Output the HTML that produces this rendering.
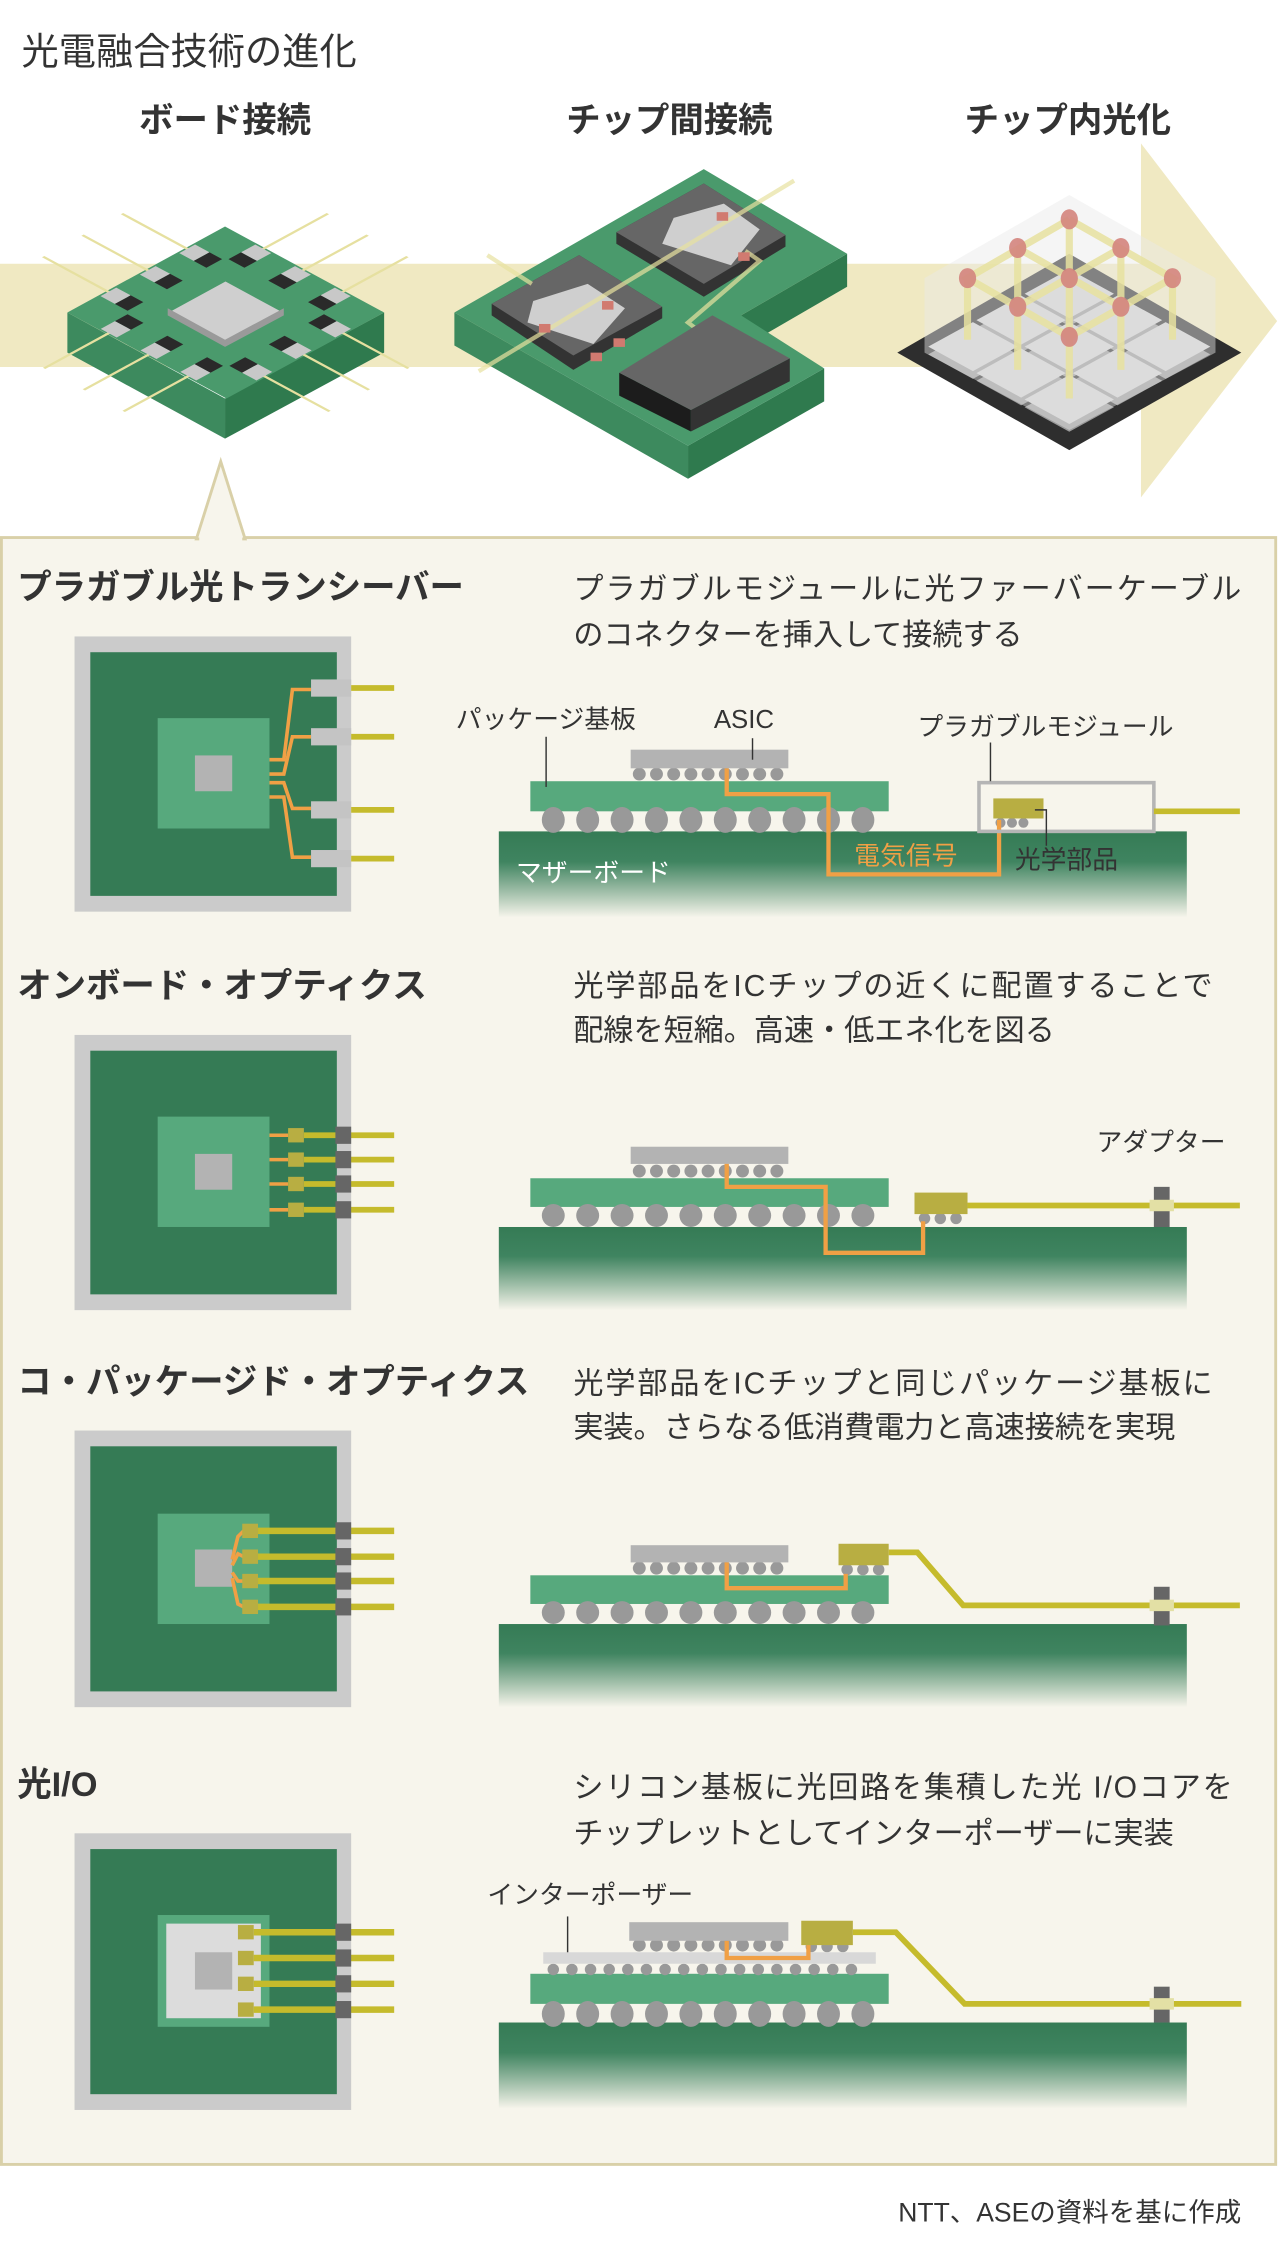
<!DOCTYPE html>
<html><head><meta charset="utf-8"><style>
html,body{margin:0;padding:0;background:#fff;}
svg{display:block;}
text{font-family:"Liberation Sans","Noto Sans CJK JP",sans-serif;fill:#333;}
.h{font-weight:bold;font-size:24px;}
.d{font-size:21px;}
.l{font-size:18px;}
</style></head><body>
<svg width="1280" height="2244" viewBox="0 0 893 1565.5" xmlns="http://www.w3.org/2000/svg">
<defs>
<linearGradient id="mb" x1="0" y1="0" x2="0" y2="1">
<stop offset="0" stop-color="#357b55"/><stop offset="0.35" stop-color="#3f8460"/><stop offset="1" stop-color="#357b55" stop-opacity="0"/>
</linearGradient>
</defs>
<rect width="893" height="1565.5" fill="#fff"/>
<text x="15" y="45" font-size="26">光電融合技術の進化</text>
<text class="h" x="157" y="92" text-anchor="middle">ボード接続</text>
<text class="h" x="467" y="92" text-anchor="middle">チップ間接続</text>
<text class="h" x="745" y="92" text-anchor="middle">チップ内光化</text>
<polygon points="0,184 796,184 796,100 891,224 796,347 796,256 0,256" fill="#f0e9c2"/>

<!-- board 1 -->
<polygon points="47,218 157,278 157,306 47,246" fill="#3d8a5e"/>
<polygon points="157,278 268,218 268,246 157,306" fill="#2f7a4e"/>
<g transform="matrix(1.11,0.6,-1.10,0.6,157,158)">
 <rect x="0" y="0" width="100" height="100" fill="#4a9a6c"/>
 <g stroke="#e6e0a0" stroke-width="1.5">
  <line x1="25" y1="4" x2="25" y2="-40"/><line x1="50" y1="4" x2="50" y2="-40"/><line x1="75" y1="4" x2="75" y2="-40"/>
  <line x1="25" y1="96" x2="25" y2="140"/><line x1="50" y1="96" x2="50" y2="140"/><line x1="75" y1="96" x2="75" y2="140"/>
  <line x1="4" y1="25" x2="-40" y2="25"/><line x1="4" y1="50" x2="-40" y2="50"/><line x1="4" y1="75" x2="-40" y2="75"/>
  <line x1="96" y1="25" x2="140" y2="25"/><line x1="96" y1="50" x2="140" y2="50"/><line x1="96" y1="75" x2="140" y2="75"/>
 </g>
 <g fill="#2a2a2a">
  <rect x="20" y="10" width="10" height="8"/><rect x="45" y="10" width="10" height="8"/><rect x="70" y="10" width="10" height="8"/>
  <rect x="20" y="82" width="10" height="8"/><rect x="45" y="82" width="10" height="8"/><rect x="70" y="82" width="10" height="8"/>
  <rect x="10" y="20" width="8" height="10"/><rect x="10" y="45" width="8" height="10"/><rect x="10" y="70" width="8" height="10"/>
  <rect x="82" y="20" width="8" height="10"/><rect x="82" y="45" width="8" height="10"/><rect x="82" y="70" width="8" height="10"/>
 </g>
 <g fill="#c8c8c8">
  <rect x="20" y="1" width="10" height="9"/><rect x="45" y="1" width="10" height="9"/><rect x="70" y="1" width="10" height="9"/>
  <rect x="20" y="90" width="10" height="9"/><rect x="45" y="90" width="10" height="9"/><rect x="70" y="90" width="10" height="9"/>
  <rect x="1" y="20" width="9" height="10"/><rect x="1" y="45" width="9" height="10"/><rect x="1" y="70" width="9" height="10"/>
  <rect x="90" y="20" width="9" height="10"/><rect x="90" y="45" width="9" height="10"/><rect x="90" y="70" width="9" height="10"/>
 </g>
 <rect x="32" y="32" width="36" height="36" fill="#cfcfcf"/>
</g>
<polygon points="117,215 157,237 198,215 198,220 157,242 117,220" fill="#9a9a9a"/>

<!-- board 2 -->
<polygon points="317,218 480,311 480,334 317,241" fill="#3d8a5e"/>
<polygon points="480,311 575,257 575,280 480,334" fill="#2f7a4e"/>
<polygon points="591,177 517,220 517,243 591,200" fill="#2f7a4e"/>
<polygon points="491,118 591,177 517,220 575,257 480,311 317,218" fill="#4a9a6c"/>
<polygon points="491,128 548,164 548,172 491,207 430,170 430,162" fill="#333"/>
<polygon points="491,128 548,164 491,198 430,162" fill="#666"/>
<polygon points="470,152 505,142 530,160 510,185 462,170" fill="#cfcfcf"/>
<polygon points="404,178 462,214 462,222 400,258 343,220 343,212" fill="#333"/>
<polygon points="404,178 462,214 400,248 343,212" fill="#666"/>
<polygon points="372,210 410,198 436,215 414,240 368,225" fill="#cfcfcf"/>
<line x1="554" y1="126" x2="334" y2="259" stroke="#e8e2a0" stroke-width="3" opacity="0.7"/>
<line x1="340" y1="178" x2="371" y2="198" stroke="#e8e2a0" stroke-width="3" opacity="0.7"/>
<polyline points="520,175 530,182 480,225 500,240" fill="none" stroke="#e8e2a0" stroke-width="3" opacity="0.7"/>
<g fill="#d17a70">
<rect x="500" y="148" width="8" height="6"/><rect x="515" y="176" width="8" height="6"/>
<rect x="420" y="210" width="8" height="6"/><rect x="376" y="226" width="8" height="6"/><rect x="428" y="236" width="8" height="6"/><rect x="412" y="246" width="8" height="6"/>
</g>
<polygon points="432,260 482,286 482,301 432,276" fill="#1c1c1c"/>
<polygon points="482,286 551,250 551,266 482,301" fill="#333"/>
<polygon points="497,220 551,250 482,286 432,260" fill="#666"/>

<!-- board 3 -->
<polygon points="746,177 866,246 746,314 626,246" fill="#2e2e2e"/>
<g transform="matrix(0.82,0.45,-0.82,0.45,746,186)">
 <g transform="translate(6,6)" fill="#9a9a9a">
  <rect x="2" y="2" width="38" height="38"/><rect x="43" y="2" width="38" height="38"/><rect x="84" y="2" width="38" height="38"/>
  <rect x="2" y="43" width="38" height="38"/><rect x="43" y="43" width="38" height="38"/><rect x="84" y="43" width="38" height="38"/>
  <rect x="2" y="84" width="38" height="38"/><rect x="43" y="84" width="38" height="38"/><rect x="84" y="84" width="38" height="38"/>
 </g>
 <g fill="#d2d2d2">
  <rect x="2" y="2" width="38" height="38"/><rect x="43" y="2" width="38" height="38"/><rect x="84" y="2" width="38" height="38"/>
  <rect x="2" y="43" width="38" height="38"/><rect x="43" y="43" width="38" height="38"/><rect x="84" y="43" width="38" height="38"/>
  <rect x="2" y="84" width="38" height="38"/><rect x="43" y="84" width="38" height="38"/><rect x="84" y="84" width="38" height="38"/>
 </g>
</g>
<polygon points="746,136 848,194 848,246 746,300 645,246 645,194" fill="#e8e8e8" opacity="0.45"/>
<g stroke="#e8e2a0" stroke-width="5" opacity="0.85">
 <line x1="675" y1="194" x2="675" y2="237"/><line x1="710" y1="173" x2="710" y2="258"/><line x1="746" y1="153" x2="746" y2="278"/>
 <line x1="782" y1="173" x2="782" y2="258"/><line x1="818" y1="194" x2="818" y2="237"/>
 <polyline points="746,153 818,194 746,235 675,194 746,153" fill="none"/>
 <line x1="782" y1="173" x2="710" y2="214"/><line x1="710" y1="173" x2="782" y2="214"/>
</g>
<g fill="#d4857e" opacity="0.9">
 <ellipse cx="746" cy="153" rx="6" ry="7"/><ellipse cx="710" cy="173" rx="6" ry="7"/><ellipse cx="782" cy="173" rx="6" ry="7"/>
 <ellipse cx="675" cy="194" rx="6" ry="7"/><ellipse cx="746" cy="194" rx="6" ry="7"/><ellipse cx="818" cy="194" rx="6" ry="7"/>
 <ellipse cx="710" cy="214" rx="6" ry="7"/><ellipse cx="782" cy="214" rx="6" ry="7"/><ellipse cx="746" cy="235" rx="6" ry="7"/>
</g>

<!-- panel -->
<rect x="1" y="375" width="889" height="1135" fill="#f7f5ec" stroke="#d9d0a8" stroke-width="2"/>
<polygon points="137,376 154,322 171,376" fill="#f7f5ec" stroke="#d9d0a8" stroke-width="2"/>
<rect x="139" y="374" width="30" height="4" fill="#f7f5ec"/>

<text class="h" x="12" y="418">プラガブル光トランシーバー</text>
<text class="d" x="400" y="418" textLength="466">プラガブルモジュールに光ファーバーケーブル</text>
<text class="d" x="400" y="450">のコネクターを挿入して接続する</text>
<text class="h" x="12" y="696">オンボード・オプティクス</text>
<text class="d" x="400" y="695" textLength="446">光学部品をICチップの近くに配置することで</text>
<text class="d" x="400" y="726">配線を短縮。高速・低エネ化を図る</text>
<text class="h" x="12" y="972">コ・パッケージド・オプティクス</text>
<text class="d" x="400" y="972" textLength="446">光学部品をICチップと同じパッケージ基板に</text>
<text class="d" x="400" y="1003">実装。さらなる低消費電力と高速接続を実現</text>
<text class="h" x="12" y="1253">光I/O</text>
<text class="d" x="400" y="1254" textLength="460">シリコン基板に光回路を集積した光 I/Oコアを</text>
<text class="d" x="400" y="1286">チップレットとしてインターポーザーに実装</text>
<text x="866" y="1550" font-size="18.5" text-anchor="end">NTT、ASEの資料を基に作成</text>

<!-- Section 1 left -->
<rect x="52" y="444" width="193" height="192" fill="#cbcbcb"/>
<rect x="63" y="455" width="172" height="170" fill="#357b55"/>
<rect x="110" y="501" width="78" height="77" fill="#57a97d"/>
<rect x="136" y="527" width="26" height="25" fill="#b3b3b3"/>
<g fill="none" stroke="#f0a045" stroke-width="2.5">
 <polyline points="188,530 198,530 204,481 217,481"/>
 <polyline points="188,540 198,540 204,514 217,514"/>
 <polyline points="188,546 198,546 204,564 217,564"/>
 <polyline points="188,556 198,556 204,598 217,598"/>
</g>
<g fill="#c4c4c4"><rect x="217" y="474" width="28" height="12"/><rect x="217" y="508" width="28" height="12"/><rect x="217" y="559" width="28" height="12"/><rect x="217" y="593" width="28" height="12"/></g>
<g stroke="#c5bb2c" stroke-width="4"><line x1="245" y1="480" x2="275" y2="480"/><line x1="245" y1="514" x2="275" y2="514"/><line x1="245" y1="565" x2="275" y2="565"/><line x1="245" y1="599" x2="275" y2="599"/></g>

<!-- Section 1 right -->
<rect x="348" y="580" width="480" height="60" fill="url(#mb)"/>
<rect x="370" y="545" width="250" height="21" fill="#57a97d"/>
<g fill="#999"><ellipse cx="386" cy="572" rx="8" ry="9"/><ellipse cx="410" cy="572" rx="8" ry="9"/><ellipse cx="434" cy="572" rx="8" ry="9"/><ellipse cx="458" cy="572" rx="8" ry="9"/><ellipse cx="482" cy="572" rx="8" ry="9"/><ellipse cx="506" cy="572" rx="8" ry="9"/><ellipse cx="530" cy="572" rx="8" ry="9"/><ellipse cx="554" cy="572" rx="8" ry="9"/><ellipse cx="578" cy="572" rx="8" ry="9"/><ellipse cx="602" cy="572" rx="8" ry="9"/>
<circle cx="446" cy="540" r="4.5"/><circle cx="458" cy="540" r="4.5"/><circle cx="470" cy="540" r="4.5"/><circle cx="482" cy="540" r="4.5"/><circle cx="494" cy="540" r="4.5"/><circle cx="506" cy="540" r="4.5"/><circle cx="518" cy="540" r="4.5"/><circle cx="530" cy="540" r="4.5"/><circle cx="542" cy="540" r="4.5"/>
<circle cx="698" cy="574" r="3.5"/><circle cx="706" cy="574" r="3.5"/><circle cx="714" cy="574" r="3.5"/></g>
<rect x="440" y="523" width="110" height="13" fill="#b3b3b3"/>
<polyline points="507,536 507,554 578,554 578,610 697,610 697,572" fill="none" stroke="#f0a045" stroke-width="3"/>
<rect x="683" y="546" width="122" height="34" fill="none" stroke="#b5b5b5" stroke-width="2.5"/>
<rect x="693" y="557" width="35" height="14" fill="#b8ae42"/>
<line x1="805" y1="566" x2="865" y2="566" stroke="#c5bb2c" stroke-width="4"/>
<g stroke="#333" stroke-width="1"><line x1="381" y1="514" x2="381" y2="549"/><line x1="525" y1="515" x2="525" y2="530"/><line x1="691" y1="518" x2="691" y2="545"/><polyline points="722,565 730,565 730,590" fill="none"/></g>
<text class="l" x="318" y="508">パッケージ基板</text>
<text class="l" x="498" y="508">ASIC</text>
<text class="l" x="640" y="513">プラガブルモジュール</text>
<text class="l" x="596" y="603" style="fill:#f0a045">電気信号</text>
<text class="l" x="708" y="606">光学部品</text>
<text class="l" x="360" y="615" style="fill:#fff">マザーボード</text>

<!-- Section 2 left -->
<rect x="52" y="722" width="193" height="192" fill="#cbcbcb"/>
<rect x="63" y="733" width="172" height="170" fill="#357b55"/>
<rect x="110" y="779" width="78" height="77" fill="#57a97d"/>
<rect x="136" y="805" width="26" height="25" fill="#b3b3b3"/>
<g stroke="#f0a045" stroke-width="2.5"><line x1="188" y1="792" x2="201" y2="792"/><line x1="188" y1="809" x2="201" y2="809"/><line x1="188" y1="826" x2="201" y2="826"/><line x1="188" y1="844" x2="201" y2="844"/></g>
<g stroke="#c5bb2c" stroke-width="4"><line x1="212" y1="792" x2="275" y2="792"/><line x1="212" y1="809" x2="275" y2="809"/><line x1="212" y1="826" x2="275" y2="826"/><line x1="212" y1="844" x2="275" y2="844"/></g>
<g fill="#b8ae42"><rect x="201" y="787" width="11" height="10"/><rect x="201" y="804" width="11" height="10"/><rect x="201" y="821" width="11" height="10"/><rect x="201" y="839" width="11" height="10"/></g>
<g fill="#666"><rect x="234" y="786" width="11" height="12"/><rect x="234" y="803" width="11" height="12"/><rect x="234" y="820" width="11" height="12"/><rect x="234" y="838" width="11" height="12"/></g>

<!-- Section 2 right -->
<rect x="348" y="856" width="480" height="58" fill="url(#mb)"/>
<rect x="370" y="822" width="250" height="20" fill="#57a97d"/>
<g fill="#999"><ellipse cx="386" cy="848" rx="8" ry="8"/><ellipse cx="410" cy="848" rx="8" ry="8"/><ellipse cx="434" cy="848" rx="8" ry="8"/><ellipse cx="458" cy="848" rx="8" ry="8"/><ellipse cx="482" cy="848" rx="8" ry="8"/><ellipse cx="506" cy="848" rx="8" ry="8"/><ellipse cx="530" cy="848" rx="8" ry="8"/><ellipse cx="554" cy="848" rx="8" ry="8"/><ellipse cx="578" cy="848" rx="8" ry="8"/><ellipse cx="602" cy="848" rx="8" ry="8"/>
<circle cx="446" cy="817" r="4.5"/><circle cx="458" cy="817" r="4.5"/><circle cx="470" cy="817" r="4.5"/><circle cx="482" cy="817" r="4.5"/><circle cx="494" cy="817" r="4.5"/><circle cx="506" cy="817" r="4.5"/><circle cx="518" cy="817" r="4.5"/><circle cx="530" cy="817" r="4.5"/><circle cx="542" cy="817" r="4.5"/>
<circle cx="645" cy="850" r="4"/><circle cx="656" cy="850" r="4"/><circle cx="667" cy="850" r="4"/></g>
<rect x="440" y="800" width="110" height="12" fill="#b3b3b3"/>
<polyline points="507,812 507,828 576,828 576,874 644,874 644,852" fill="none" stroke="#f0a045" stroke-width="3"/>
<rect x="638" y="832" width="37" height="15" fill="#b8ae42"/>
<line x1="675" y1="841" x2="865" y2="841" stroke="#c5bb2c" stroke-width="4"/>
<rect x="805" y="828" width="11" height="28" fill="#666"/><rect x="802" y="837" width="17" height="8" fill="#e3e0a5"/>
<text class="l" x="765" y="803">アダプター</text>

<!-- Section 3 left -->
<rect x="52" y="998" width="193" height="193" fill="#cbcbcb"/>
<rect x="63" y="1009" width="172" height="171" fill="#357b55"/>
<rect x="110" y="1056" width="78" height="77" fill="#57a97d"/>
<rect x="136" y="1081" width="26" height="26" fill="#b3b3b3"/>
<g fill="none" stroke="#f0a045" stroke-width="2.5">
 <polyline points="162,1088 166,1072 170,1068"/><polyline points="162,1092 166,1084 170,1086"/><polyline points="162,1097 166,1103 170,1103"/><polyline points="162,1101 166,1119 170,1121"/>
</g>
<g stroke="#c5bb2c" stroke-width="4.5"><line x1="180" y1="1068" x2="275" y2="1068"/><line x1="180" y1="1086" x2="275" y2="1086"/><line x1="180" y1="1103" x2="275" y2="1103"/><line x1="180" y1="1121" x2="275" y2="1121"/></g>
<g fill="#b8ae42"><rect x="169" y="1063" width="11" height="10"/><rect x="169" y="1081" width="11" height="10"/><rect x="169" y="1098" width="11" height="10"/><rect x="169" y="1116" width="11" height="10"/></g>
<g fill="#666"><rect x="234" y="1062" width="11" height="12"/><rect x="234" y="1080" width="11" height="12"/><rect x="234" y="1097" width="11" height="12"/><rect x="234" y="1115" width="11" height="12"/></g>

<!-- Section 3 right -->
<rect x="348" y="1133" width="480" height="58" fill="url(#mb)"/>
<rect x="370" y="1099" width="250" height="20" fill="#57a97d"/>
<g fill="#999"><ellipse cx="386" cy="1125" rx="8" ry="8"/><ellipse cx="410" cy="1125" rx="8" ry="8"/><ellipse cx="434" cy="1125" rx="8" ry="8"/><ellipse cx="458" cy="1125" rx="8" ry="8"/><ellipse cx="482" cy="1125" rx="8" ry="8"/><ellipse cx="506" cy="1125" rx="8" ry="8"/><ellipse cx="530" cy="1125" rx="8" ry="8"/><ellipse cx="554" cy="1125" rx="8" ry="8"/><ellipse cx="578" cy="1125" rx="8" ry="8"/><ellipse cx="602" cy="1125" rx="8" ry="8"/>
<circle cx="446" cy="1094" r="4.5"/><circle cx="458" cy="1094" r="4.5"/><circle cx="470" cy="1094" r="4.5"/><circle cx="482" cy="1094" r="4.5"/><circle cx="494" cy="1094" r="4.5"/><circle cx="506" cy="1094" r="4.5"/><circle cx="518" cy="1094" r="4.5"/><circle cx="530" cy="1094" r="4.5"/><circle cx="542" cy="1094" r="4.5"/>
<circle cx="591" cy="1095" r="4"/><circle cx="602" cy="1095" r="4"/><circle cx="613" cy="1095" r="4"/></g>
<rect x="440" y="1078" width="110" height="12" fill="#b3b3b3"/>
<polyline points="507,1090 507,1108 590,1108 590,1098" fill="none" stroke="#f0a045" stroke-width="3"/>
<rect x="585" y="1077" width="35" height="15" fill="#b8ae42"/>
<polyline points="620,1083 640,1083 672,1120 865,1120" fill="none" stroke="#c5bb2c" stroke-width="4"/>
<rect x="805" y="1107" width="11" height="27" fill="#666"/><rect x="802" y="1116" width="17" height="8" fill="#e3e0a5"/>

<!-- Section 4 left -->
<rect x="52" y="1279" width="193" height="193" fill="#cbcbcb"/>
<rect x="63" y="1290" width="172" height="171" fill="#357b55"/>
<rect x="110" y="1336" width="78" height="78" fill="#57a97d"/>
<rect x="116" y="1342" width="66" height="66" fill="#dcdcdc"/>
<rect x="136" y="1362" width="26" height="26" fill="#b3b3b3"/>
<g stroke="#c5bb2c" stroke-width="4.5"><line x1="177" y1="1348" x2="275" y2="1348"/><line x1="177" y1="1366" x2="275" y2="1366"/><line x1="177" y1="1384" x2="275" y2="1384"/><line x1="177" y1="1402" x2="275" y2="1402"/></g>
<g fill="#b8ae42"><rect x="166" y="1343" width="11" height="10"/><rect x="166" y="1361" width="11" height="10"/><rect x="166" y="1379" width="11" height="10"/><rect x="166" y="1397" width="11" height="10"/></g>
<g fill="#666"><rect x="234" y="1342" width="11" height="12"/><rect x="234" y="1360" width="11" height="12"/><rect x="234" y="1378" width="11" height="12"/><rect x="234" y="1396" width="11" height="12"/></g>

<!-- Section 4 right -->
<rect x="348" y="1411" width="480" height="60" fill="url(#mb)"/>
<rect x="370" y="1377" width="250" height="21" fill="#57a97d"/>
<g fill="#999"><ellipse cx="386" cy="1405" rx="8" ry="9"/><ellipse cx="410" cy="1405" rx="8" ry="9"/><ellipse cx="434" cy="1405" rx="8" ry="9"/><ellipse cx="458" cy="1405" rx="8" ry="9"/><ellipse cx="482" cy="1405" rx="8" ry="9"/><ellipse cx="506" cy="1405" rx="8" ry="9"/><ellipse cx="530" cy="1405" rx="8" ry="9"/><ellipse cx="554" cy="1405" rx="8" ry="9"/><ellipse cx="578" cy="1405" rx="8" ry="9"/><ellipse cx="602" cy="1405" rx="8" ry="9"/>
<circle cx="386" cy="1374" r="4"/><circle cx="399" cy="1374" r="4"/><circle cx="412" cy="1374" r="4"/><circle cx="425" cy="1374" r="4"/><circle cx="438" cy="1374" r="4"/><circle cx="451" cy="1374" r="4"/><circle cx="464" cy="1374" r="4"/><circle cx="477" cy="1374" r="4"/><circle cx="490" cy="1374" r="4"/><circle cx="503" cy="1374" r="4"/><circle cx="516" cy="1374" r="4"/><circle cx="529" cy="1374" r="4"/><circle cx="542" cy="1374" r="4"/><circle cx="555" cy="1374" r="4"/><circle cx="568" cy="1374" r="4"/><circle cx="581" cy="1374" r="4"/><circle cx="594" cy="1374" r="4"/>
<circle cx="446" cy="1357" r="4.5"/><circle cx="458" cy="1357" r="4.5"/><circle cx="470" cy="1357" r="4.5"/><circle cx="482" cy="1357" r="4.5"/><circle cx="494" cy="1357" r="4.5"/><circle cx="506" cy="1357" r="4.5"/><circle cx="518" cy="1357" r="4.5"/><circle cx="530" cy="1357" r="4.5"/><circle cx="542" cy="1357" r="4.5"/>
<circle cx="566" cy="1358" r="4"/><circle cx="577" cy="1358" r="4"/><circle cx="588" cy="1358" r="4"/></g>
<rect x="379" y="1362" width="232" height="8" fill="#d8d8d8"/>
<rect x="439" y="1341" width="111" height="13" fill="#b3b3b3"/>
<polyline points="507,1354 507,1366 564,1366 564,1356" fill="none" stroke="#f0a045" stroke-width="3"/>
<rect x="559" y="1340" width="36" height="17" fill="#b8ae42"/>
<polyline points="595,1348 625,1348 673,1398 866,1398" fill="none" stroke="#c5bb2c" stroke-width="4"/>
<rect x="805" y="1386" width="11" height="25" fill="#666"/><rect x="802" y="1394" width="17" height="8" fill="#e3e0a5"/>
<line x1="396" y1="1337" x2="396" y2="1362" stroke="#333" stroke-width="1"/>
<text class="l" x="340" y="1328">インターポーザー</text>
</svg>
</body></html>
